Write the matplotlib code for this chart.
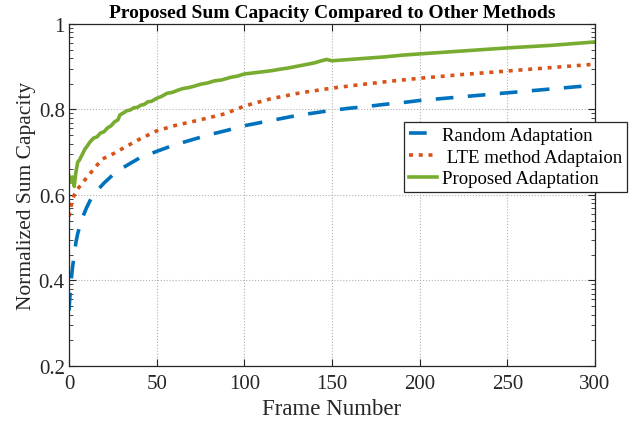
import matplotlib as mpl
mpl.use('Agg')
import matplotlib.pyplot as plt
from matplotlib.ticker import FixedLocator
import numpy as np

plt.rcParams['font.family'] = ['Liberation Serif', 'DejaVu Serif']
plt.rcParams['mathtext.fontset'] = 'stix'

# Random Adaptation
rand_x = [0, 1, 2, 3, 4, 5, 6, 8, 10, 13, 16, 20, 25, 30, 35, 40, 50, 60, 70,
          80, 90, 100, 110, 120, 130, 140, 150, 160, 170, 180, 190, 200, 225,
          250, 275, 300]
rand_y = [0.33, 0.39, 0.43, 0.46, 0.49, 0.51, 0.525, 0.55, 0.57, 0.595, 0.61,
          0.628, 0.647, 0.662, 0.674, 0.686, 0.702, 0.717, 0.729, 0.741, 0.751,
          0.762, 0.77, 0.778, 0.786, 0.792, 0.798, 0.803, 0.807, 0.812, 0.816,
          0.821, 0.83, 0.839, 0.848, 0.857]

# LTE method
lte_x = [0, 1, 2, 3, 5, 7, 9, 12, 15, 19, 26, 32, 40, 50, 60, 75, 89, 100,
         115, 132, 150, 166, 183, 200, 225, 250, 275, 300]
lte_y = [0.55, 0.57, 0.59, 0.6, 0.614, 0.625, 0.635, 0.65, 0.665, 0.684,
         0.698, 0.712, 0.73, 0.75, 0.762, 0.776, 0.79, 0.808, 0.825, 0.839,
         0.85, 0.858, 0.866, 0.873, 0.882, 0.89, 0.898, 0.906]

# Proposed
prop_x = [0, 1, 2, 3, 4, 5, 6, 7, 8, 9, 10, 12, 14, 16, 18, 20, 22, 24, 26,
          28, 29, 31, 33, 35, 37, 39, 41, 43, 45, 47, 50, 53, 56, 59, 62, 65,
          68, 71, 75, 79, 83, 87, 92, 96, 100, 104, 108, 112, 116, 120, 125,
          130, 135, 140, 144, 147, 150, 160, 170, 180, 190, 200, 225, 250, 275,
          300]
prop_y = [0.645, 0.63, 0.642, 0.62, 0.655, 0.677, 0.682, 0.69, 0.698, 0.707,
          0.712, 0.724, 0.733, 0.736, 0.745, 0.748, 0.757, 0.762, 0.771, 0.776,
          0.787, 0.792, 0.797, 0.799, 0.804, 0.805, 0.81, 0.812, 0.818, 0.819,
          0.826, 0.831, 0.838, 0.84, 0.845, 0.849, 0.851, 0.854, 0.859, 0.862,
          0.867, 0.869, 0.875, 0.878, 0.883, 0.885, 0.887, 0.889, 0.891, 0.894,
          0.897, 0.901, 0.905, 0.909, 0.914, 0.917, 0.914, 0.917, 0.92, 0.923,
          0.927, 0.93, 0.937, 0.944, 0.95, 0.958]

xticks = [0, 50, 100, 150, 200, 250, 300]
yticks = [0.2, 0.4, 0.6, 0.8, 1.0]
ytick_labels = ['0.2', '0.4', '0.6', '0.8', '1']

fig = plt.figure(figsize=(6.41, 4.27), dpi=100)
ax = fig.add_axes([0.1076, 0.1405, 0.8206, 0.801])

ax.plot(rand_x, rand_y, color='#0072BD', lw=2.6, ls=(0, (4.9, 4.0)),
        dash_capstyle='butt', label='Random Adaptation')
ax.plot(lte_x, lte_y, color='#D95319', lw=2.6, ls=(0, (1.1, 1.6)),
        dash_capstyle='butt', label=' LTE method Adaptaion')
ax.plot(prop_x, prop_y, color='#77AC30', lw=2.6, label='Proposed Adaptation')

ax.set_xlim(0, 300)
ax.set_ylim(0.2, 1.0)
ax.set_xticks(xticks)
ax.set_yticks(yticks)
ax.set_yticklabels(ytick_labels)

# odd log-looking minor ticks inside each major interval
minor = []
for a in yticks[:-1]:
    for k in range(2, 10):
        minor.append(a + 0.2 * np.log10(k))
ax.yaxis.set_minor_locator(FixedLocator(minor))

ax.tick_params(which='both', direction='in', top=True, right=True,
               labelsize=15, colors='#262626', labelcolor='#262626', pad=3)
ax.tick_params(axis='x', pad=6)
ax.tick_params(which='major', length=5, width=0.8)
ax.tick_params(which='minor', length=3, width=0.6)
for s in ax.spines.values():
    s.set_color('#262626')
    s.set_linewidth(0.9)

ax.grid(True, which='major', ls=':', color='#b0b0b0', lw=0.8)

ax.set_xlabel('Frame Number', fontsize=16.5, color='#262626', labelpad=3)
ax.set_ylabel('Normalized Sum Capacity', fontsize=15.5, color='#262626',
              labelpad=2)
ax.set_title('Proposed Sum Capacity Compared to Other Methods',
             fontsize=14, fontweight='bold', pad=5)

leg = ax.legend(loc='upper left', bbox_to_anchor=(0.63, 0.712),
                bbox_transform=fig.transFigure, fontsize=13.5, fancybox=False,
                framealpha=1, edgecolor='#262626', handlelength=1.5,
                handletextpad=0.3, borderpad=0.25, labelspacing=0.25,
                borderaxespad=0)
leg.get_frame().set_linewidth(0.9)

plt.savefig('out.png', dpi=100)
